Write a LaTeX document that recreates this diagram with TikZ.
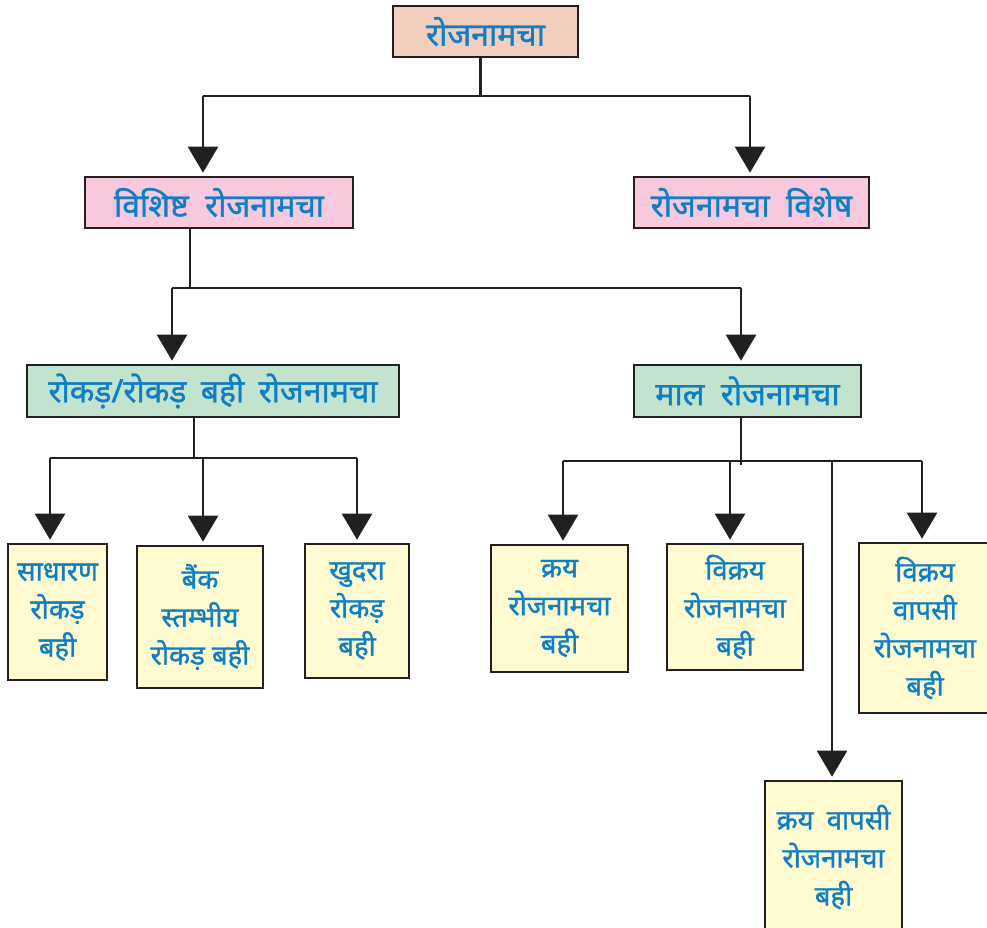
\documentclass[tikz,border=0pt]{standalone}
\usepackage{fontspec}
\newfontfamily\devfont[Script=Devanagari,FakeBold=1.2]{Noto Sans}
\usetikzlibrary{arrows.meta}

\definecolor{txtblue}{HTML}{0E7FC6}
\definecolor{linegray}{HTML}{231F20}
\definecolor{rootfill}{HTML}{F2CEBE}
\definecolor{pinkfill}{HTML}{F8C8DF}
\definecolor{greenfill}{HTML}{C2E3CD}
\definecolor{leaffill}{HTML}{FFFACF}

\tikzset{
  box/.style={draw=linegray, line width=2.6pt, text=txtblue, align=center,
    inner sep=0pt, font=\devfont\fontsize{32}{38}\selectfont},
  leaf/.style={box, fill=leaffill, font=\devfont\fontsize{27.5}{38}\selectfont},
  conn/.style={draw=linegray, line width=2.4pt},
  arr/.style={conn, -{Triangle[length=26pt,width=30pt]}, shorten >=3pt}
}

\begin{document}
\begin{tikzpicture}[x=1pt,y=-1pt]
      \useasboundingbox (0,0) rectangle (987,928);

      % boxes
      \node[box, fill=rootfill, minimum width=185pt, minimum height=51pt] (root) at (485.5,31.5) {रोजनामचा};
      \node[box, fill=pinkfill, minimum width=268pt, minimum height=51pt] (vis) at (219,202.5) {विशिष्ट\hspace{8pt} रोजनामचा};
      \node[box, fill=pinkfill, minimum width=235pt, minimum height=51pt] (vish) at (751.5,202.5) {रोजनामचा\hspace{8pt} विशेष};
      \node[box, fill=greenfill, minimum width=372pt, minimum height=52pt] (rok) at (213,391) {रोकड़/रोकड़\hspace{6pt} बही\hspace{6pt} रोजनामचा};
      \node[box, fill=greenfill, minimum width=227pt, minimum height=52pt] (mal) at (747.5,391) {माल\hspace{8pt} रोजनामचा};

      \begin{scope}[every node/.style={leaf}]
        \node[minimum width=99pt, minimum height=136pt] (sa) at (57.5,612) {साधारण\\रोकड़\\बही};
        \node[minimum width=126pt, minimum height=142pt] (bank) at (200,617) {बैंक\\स्तम्भीय\\रोकड़ बही};
        \node[minimum width=104pt, minimum height=134pt] (khu) at (357,611) {खुदरा\\रोकड़\\बही};
        \node[minimum width=137pt, minimum height=127pt] (kr) at (559.5,608.5) {क्रय\\रोजनामचा\\बही};
        \node[minimum width=136pt, minimum height=126pt] (vik) at (735,607) {विक्रय\\रोजनामचा\\बही};
        \node[minimum width=132pt, minimum height=170pt] (vikv) at (925,628) {विक्रय\\वापसी\\रोजनामचा\\बही};
        \node[minimum width=137pt, minimum height=152pt] (krv) at (833.5,857) {क्रय\hspace{6pt} वापसी\\रोजनामचा\\बही};
      \end{scope}

      % junction points
      \coordinate (a1) at (203,96);
      \coordinate (a2) at (750,96);
      \coordinate (b1) at (172,288);
      \coordinate (b2) at (741,288);
      \coordinate (c1) at (50,458);
      \coordinate (c2) at (203,458);
      \coordinate (c3) at (357,458);
      \coordinate (d1) at (563,461);
      \coordinate (d2) at (730,461);
      \coordinate (d3) at (832,461);
      \coordinate (d4) at (922,461);

      % connectors
      \draw[conn] ([xshift=-5pt]root.south) -- ([xshift=-5pt]root.south |- a1);
      \draw[conn] (a1) -- (a2);
      \draw[arr] (a1) -- (a1 |- vis.north);
      \draw[arr] (a2) -- (a2 |- vish.north);

      \draw[conn] ([xshift=-29pt]vis.south) -- ([xshift=-29pt]vis.south |- b1);
      \draw[conn] (b1) -- (b2);
      \draw[arr] (b1) -- (b1 |- rok.north);
      \draw[arr] (b2) -- (b2 |- mal.north);

      \draw[conn] ([xshift=-19pt]rok.south) -- ([xshift=-19pt]rok.south |- c1);
      \draw[conn] (c1) -- (c3);
      \draw[arr] (c1) -- (c1 |- sa.north);
      \draw[arr] (c2) -- (c2 |- bank.north);
      \draw[arr] (c3) -- (c3 |- khu.north);

      \draw[conn] ([xshift=-6.5pt]mal.south) -- ([xshift=-6.5pt,yshift=-4pt]mal.south |- d1);
      \draw[conn] (d1) -- (d4);
      \draw[arr] (d1) -- (d1 |- kr.north);
      \draw[arr] (d2) -- (d2 |- vik.north);
      \draw[arr] (d3) -- (d3 |- krv.north);
      \draw[arr] (d4) -- (d4 |- vikv.north);

\end{tikzpicture}
\end{document}
